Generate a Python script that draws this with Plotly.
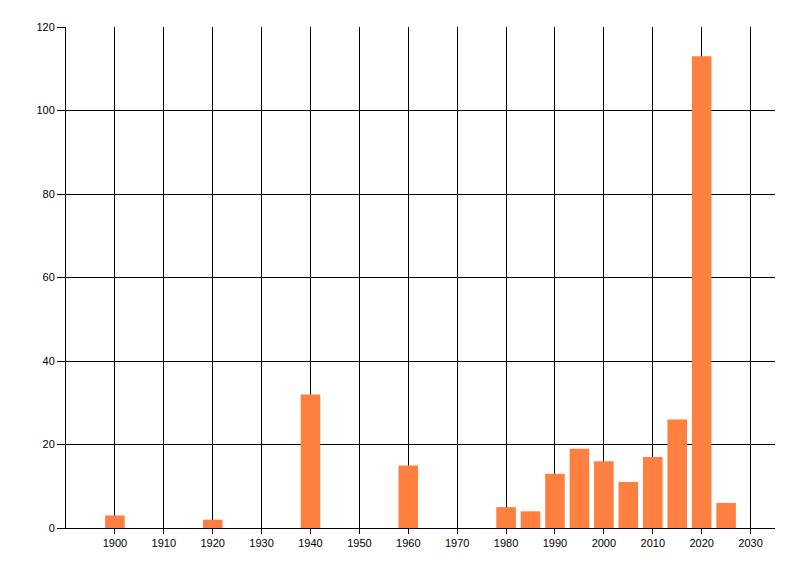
import plotly.graph_objects as go

years = [1900, 1920, 1940, 1960, 1980, 1985, 1990, 1995, 2000, 2005, 2010, 2015, 2020, 2025]
counts = [3, 2, 32, 15, 5, 4, 13, 19, 16, 11, 17, 26, 113, 6]
x_ticks = [1900, 1910, 1920, 1930, 1940, 1950, 1960, 1970, 1980, 1990, 2000, 2010, 2020, 2030]
y_ticks = [0, 20, 40, 60, 80, 100, 120]

fig = go.Figure(go.Bar(
    x=years, y=counts, width=[4] * len(years),
    marker=dict(color="#FF7F40", line=dict(width=0)),
))

# page has an 8px body margin, so the figure is 792x568 placed at (8, 8)
fig.update_layout(
    width=792, height=568,
    margin=dict(l=58, r=25, t=19, b=48),
    plot_bgcolor="white", paper_bgcolor="white",
    showlegend=False,
    font=dict(family="Liberation Sans, DejaVu Sans, sans-serif", size=11, color="black"),
)
fig.update_xaxes(
    range=[1890, 2035], tickvals=x_ticks, ticktext=[str(t) for t in x_ticks],
    showgrid=True, gridcolor="black", gridwidth=1,
    showline=True, linecolor="black", linewidth=1,
    zeroline=False, ticks="outside", ticklen=5, tickcolor="black",
)
fig.update_yaxes(
    range=[0, 120], tickvals=y_ticks,
    showgrid=True, gridcolor="black", gridwidth=1,
    showline=True, linecolor="black", linewidth=1,
    zeroline=False, ticks="outside", ticklen=8, tickcolor="black",
)

fig.write_html("out.html")
